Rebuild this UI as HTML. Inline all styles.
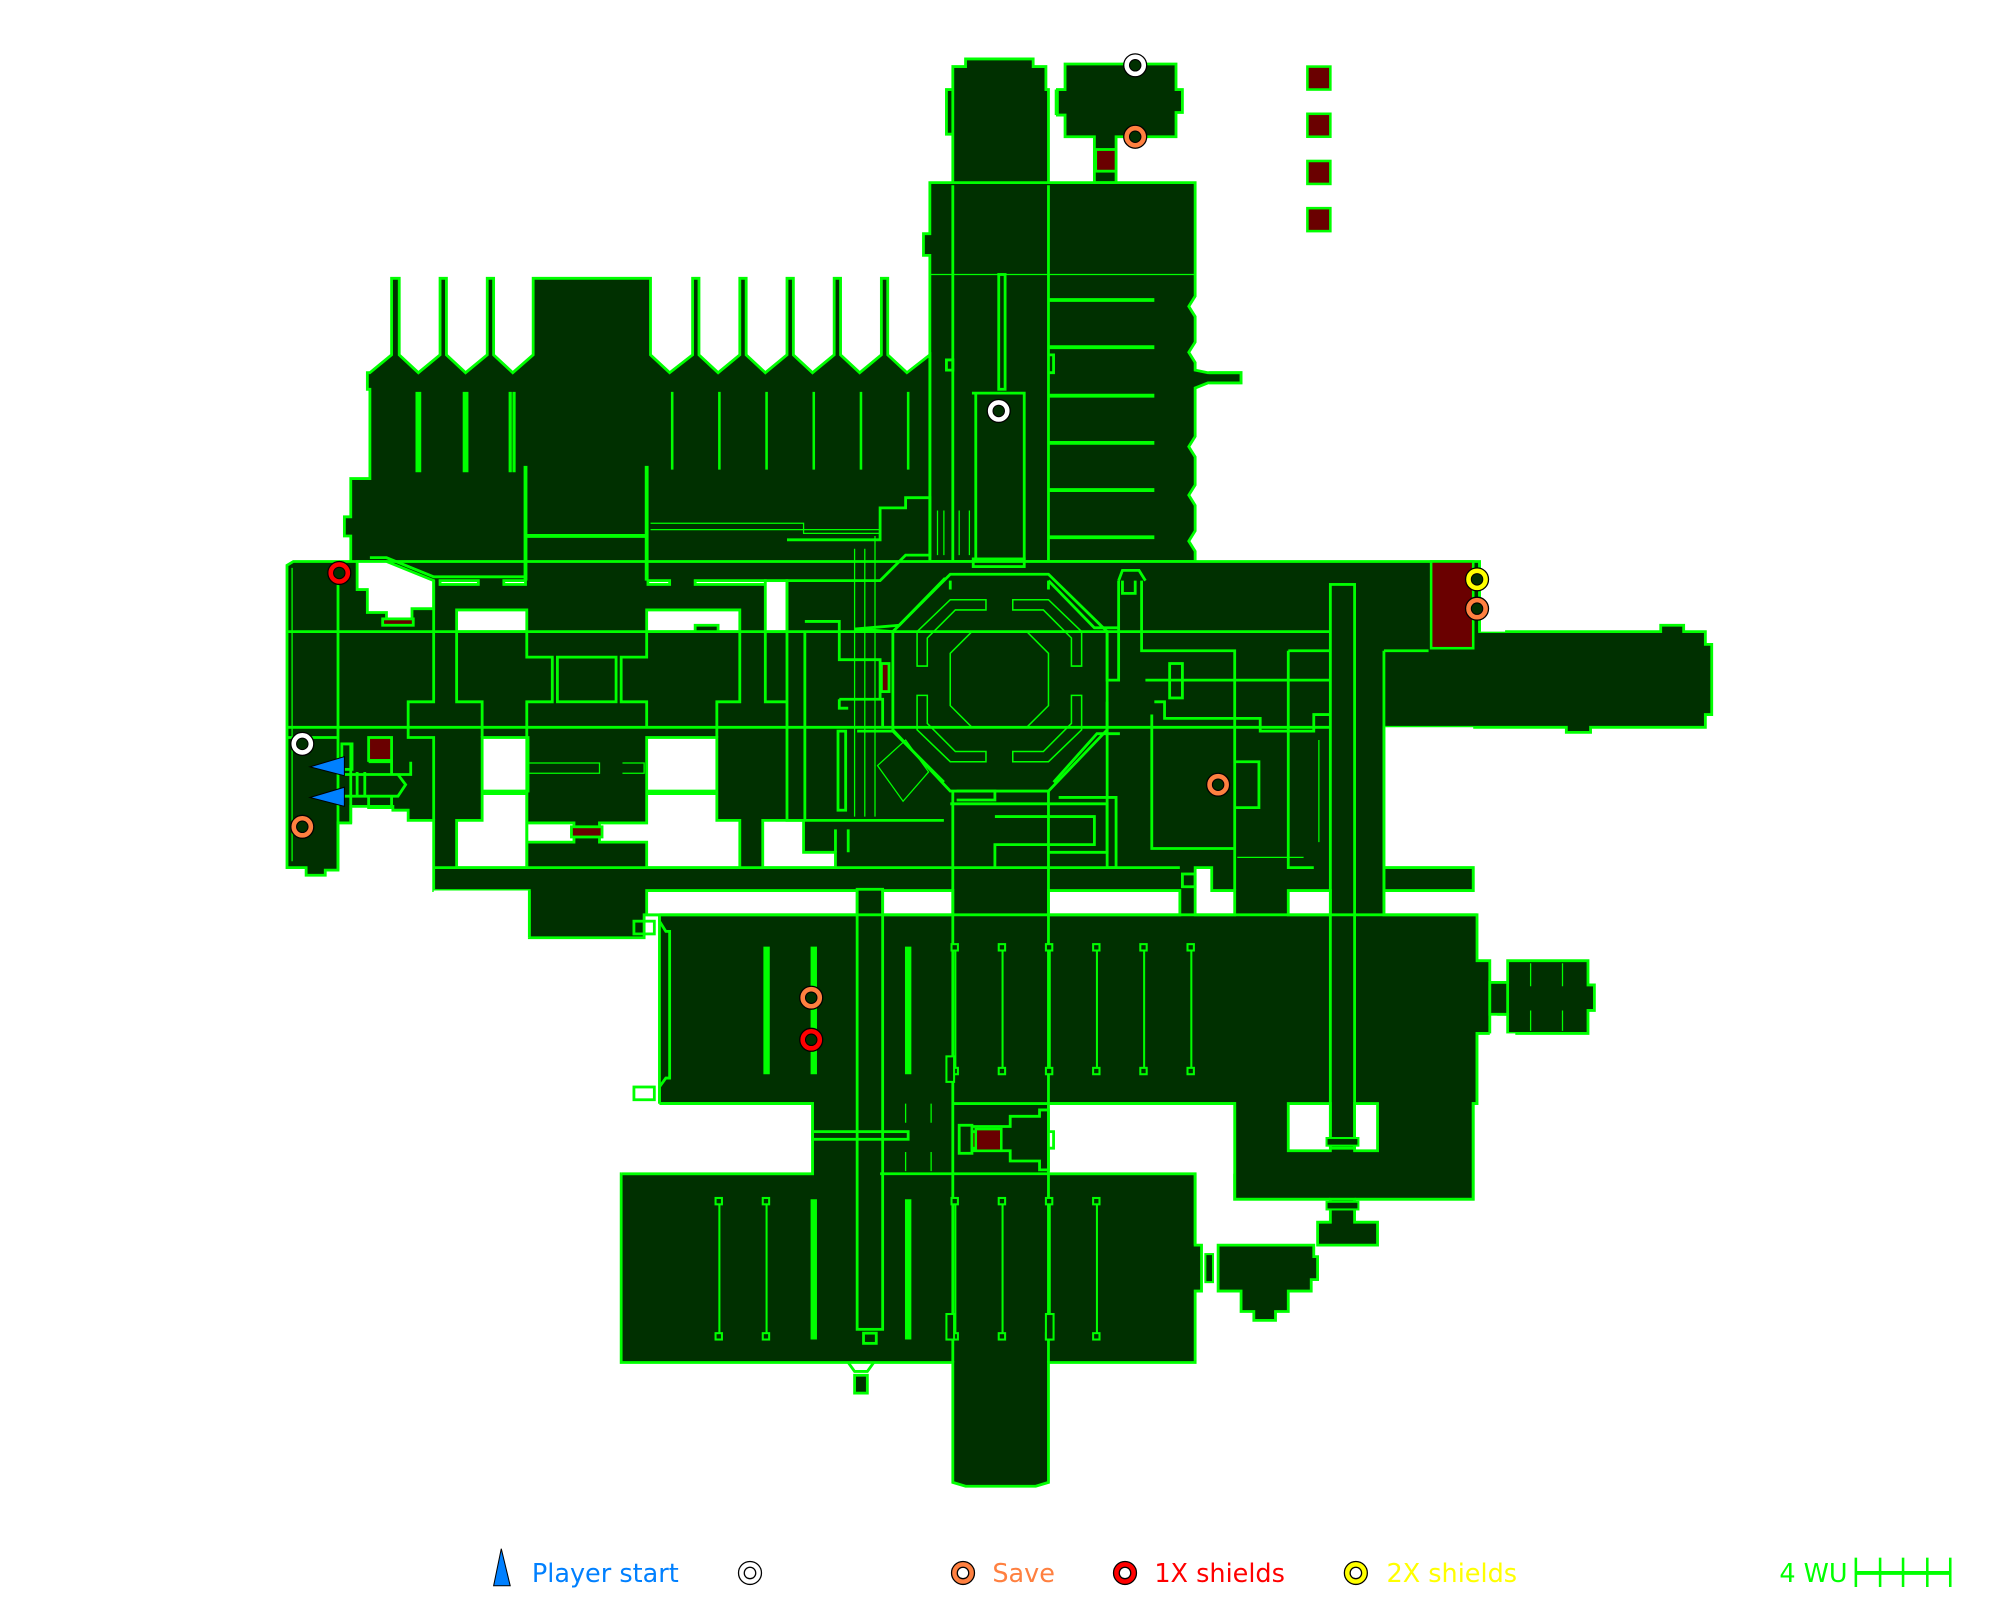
<!DOCTYPE html>
<html><head><meta charset="utf-8"><style>
html,body{margin:0;padding:0;background:#fff;width:2000px;height:1600px;overflow:hidden}
svg{display:block}
</style></head><body>
<svg width="2000" height="1600" viewBox="0 0 1568 1254" xmlns="http://www.w3.org/2000/svg">
<g fill="#003000" stroke="#00ff00" stroke-width="2.2" stroke-linejoin="miter">
<path d="M747,70 L747,52 L757,52 L757,46 L810,46 L810,52 L820,52 L820,70 L822,70 L822,145 L747,145 L747,70 L742,70 L742,105 L747,105Z"/>
<path d="M835,50 L922,50 L922,70 L927,70 L927,88 L922,88 L922,107 L875,107 L875,143 L858,143 L858,107 L835,107 L835,90 L829,90 L829,70 L835,70Z"/>
<rect x="859" y="117" width="16" height="17" fill="#6a0000"/>
<path d="M729,143 L937,143 L937,232 L932,240 L937,248 L937,268 L932,276 L937,284 L937,290 L947,292 L973,292 L973,300 L947,300 L937,304 L937,342 L932,350 L937,358 L937,380 L932,388 L937,396 L937,416 L932,424 L937,432 L937,440 L822,440 L822,440 L729,440 L729,200 L724,200 L724,183 L729,183Z"/>
<line x1="729" y1="215" x2="937" y2="215" stroke-width="1"/>
<line x1="822" y1="145" x2="822" y2="440"/>
<line x1="747" y1="145" x2="747" y2="440"/>
<path d="M290,292 L307,278 L307,218 L313,218 L313,278 L328,292 L345,278 L345,218 L350,218 L350,278 L365,292 L382,278 L382,218 L387,218 L387,278 L402,292 L418,278 L418,218 L510,218 L510,278 L525,292 L543,278 L543,218 L548,218 L548,278 L563,292 L580,278 L580,218 L585,218 L585,278 L600,292 L617,278 L617,218 L622,218 L622,278 L637,292 L654,278 L654,218 L659,218 L659,278 L674,292 L691,278 L691,218 L696,218 L696,278 L711,292 L729,278 L729,455 L290,455 L275,455 L275,420 L270,420 L270,405 L275,405 L275,375 L290,375 L290,305 L288,305 L288,292Z"/>
<path d="M225,443 L230,440 L1160,440 L1160,495 L1302,495 L1302,490 L1320,490 L1320,495 L1337,495 L1337,505 L1342,505 L1342,560 L1337,560 L1337,570 L1247,570 L1247,574 L1228,574 L1228,570 L1085,570 L1085,680 L1155,680 L1155,698 L1085,698 L1085,717 L1158,717 L1158,753 L1168,753 L1168,810 L1158,810 L1158,865 L1155,865 L1155,940 L968,940 L968,865 L822,865 L822,920 L937,920 L937,976 L942,976 L942,1012 L937,1012 L937,1068 L822,1068 L822,1162 L812,1165 L757,1165 L747,1162 L747,1068 L487,1068 L487,920 L637,920 L637,865 L517,865 L517,717 L505,717 L505,735 L415,735 L415,698 L340,698 L340,643 L320,643 L320,635 L308,635 L308,632 L275,632 L275,645 L265,645 L265,682 L255,682 L255,686 L240,686 L240,680 L225,680Z"/>
<path d="M1182,753 L1245,753 L1245,772 L1250,772 L1250,792 L1245,792 L1245,810 L1182,810 L1182,795 L1175,795 L1175,770 L1182,770Z"/>
<rect x="1168" y="770" width="14" height="25"/>
<path d="M955,976 L1030,976 L1030,985 L1033,985 L1033,1003 L1028,1003 L1028,1012 L1010,1012 L1010,1028 L1000,1028 L1000,1035 L983,1035 L983,1028 L973,1028 L973,1012 L955,1012Z"/>
<path d="M1043,940 L1062,940 L1062,958 L1080,958 L1080,976 L1033,976 L1033,958 L1043,958Z"/>
</g>
<g fill="#fff" stroke="#00ff00" stroke-width="2.2">
<path d="M280,440 L303,440 L340,455 L340,477 L323,477 L323,485 L303,485 L303,480 L288,480 L288,462 L280,462Z"/>
<rect x="345" y="455" width="30" height="3"/>
<rect x="395" y="455" width="17" height="3"/>
<rect x="508" y="455" width="17" height="3"/>
<rect x="545" y="455" width="55" height="3"/>
<rect x="600" y="455" width="17" height="40"/>
<path d="M358,478 L413,478 L413,495 L358,495Z"/>
<path d="M507,478 L580,478 L580,495 L563,495 L563,490 L545,490 L545,495 L507,495Z"/>
<rect x="378" y="578" width="36" height="42"/>
<rect x="507" y="578" width="55" height="42"/>
<path d="M358,643 L378,643 L378,622 L413,622 L413,660 L450,660 L450,645 L413,645 L413,680 L358,680Z"/>
<path d="M470,645 L507,645 L507,622 L562,622 L562,643 L580,643 L580,680 L507,680 L507,660 L470,660Z"/>
<path d="M598,643 L630,643 L630,668 L655,668 L655,680 L598,680Z"/>
<path d="M507,698 L672,698 L672,717 L507,717Z"/>
<path d="M692,698 L747,698 L747,717 L692,717Z"/>
<path d="M822,698 L925,698 L925,717 L822,717Z"/>
<path d="M937,680 L950,680 L950,698 L968,698 L968,717 L937,717Z"/>
<path d="M1010,698 L1043,698 L1043,717 L1010,717Z"/>
<path d="M1085,570 L1085,680 L1155,680 L1155,570Z" stroke="none"/>
<path d="M1010,865 L1043,865 L1043,902 L1010,902Z"/>
<path d="M1062,865 L1080,865 L1080,902 L1062,902Z"/>
<path d="M517,865 L637,865 L637,920 L487,920 L487,865Z" stroke="none"/>
<path d="M822,865 L968,865 L968,920 L822,920Z" stroke="none"/>
<rect x="1158" y="810" width="30" height="60" stroke="none"/>
<path d="M340,698 L415,698 L415,735 L340,735Z" stroke="none"/>
<rect x="1160" y="440" width="20" height="55" stroke="none"/>
<path d="M1085,680 L1085,698 L1155,698 L1155,680Z" fill="#003000"/>
</g>
<g fill="none" stroke="#00ff00" stroke-width="2.2">
<path d="M517,865 L637,865 L637,920 L487,920"/>
<path d="M822,865 L968,865 L968,940 L1043,940"/>
<path d="M1062,940 L1155,940 L1155,865 L1158,865 L1158,810 L1168,810"/>
<path d="M1085,570 L1085,680 L1155,680"/>
<path d="M415,698 L415,735"/>
<path d="M822,920 L937,920 L937,976"/>
<path d="M1160,440 L1160,495"/>
<rect x="1043" y="458" width="19" height="442"/>
<line x1="1085" y1="510" x2="1085" y2="717"/>
<line x1="1085" y1="510" x2="1120" y2="510"/>
<rect x="672" y="697" width="20" height="345"/>
<rect x="677" y="1045" width="10" height="8"/>
<rect x="670" y="1078" width="10" height="14" fill="#003000"/>
<line x1="747" y1="620" x2="747" y2="1068"/>
<line x1="822" y1="620" x2="822" y2="1068"/>
<line x1="225" y1="495" x2="1043" y2="495"/>
<line x1="225" y1="570" x2="1043" y2="570"/>
<line x1="340" y1="680" x2="925" y2="680"/>
<line x1="517" y1="717" x2="1158" y2="717"/>
<line x1="747" y1="865" x2="822" y2="865"/>
<line x1="690" y1="920" x2="822" y2="920"/>
<line x1="265" y1="440" x2="265" y2="682"/>
<line x1="412" y1="365" x2="412" y2="455" stroke-width="3"/>
<line x1="507" y1="365" x2="507" y2="455" stroke-width="3"/>
<line x1="412" y1="420" x2="507" y2="420" stroke-width="3"/>
<path d="M290,437 L303,437 L340,452 L412,452"/>
<path d="M340,455 L340,550 L320,550 L320,578 L340,578 L340,643"/>
<path d="M358,495 L358,550 L378,550 L378,578"/>
<path d="M413,495 L413,515 L433,515 L433,550 L413,550 L413,570"/>
<rect x="437" y="515" width="46" height="35"/>
<path d="M507,495 L507,515 L487,515 L487,550 L507,550 L507,570"/>
<path d="M580,495 L580,550 L562,550 L562,578"/>
<path d="M413,570 L413,680"/>
<path d="M617,423 L690,423 L690,398 L710,398 L710,390 L729,390 L729,435 L710,435 L690,455 L617,455 L617,643 L740,643"/>
<path d="M631,495 L631,643"/>
<path d="M600,495 L600,550 L617,550"/>
<path d="M895,455 L895,510 L968,510 L968,698"/>
<path d="M1010,510 L1043,510 M1010,510 L1010,680 L1030,680"/>
<path d="M903,560 L903,665 L968,665"/>
<path d="M868,550 L868,680 L875,680 L875,625 L830,625"/>
<path d="M877,455 L877,533 L868,533 L868,495"/>
<path d="M877,455 L880,447 L893,447 L898,455"/>
<path d="M880,455 L880,465 L890,465 L890,455"/>
<path d="M968,597 L987,597 L987,633 L968,633"/>
<rect x="917" y="520" width="10" height="27"/>
<path d="M898,533 L1043,533"/>
<path d="M905,550 L913,550 L913,563 L988,563 L988,573 L1030,573 L1030,560 L1043,560"/>
<rect x="927" y="685" width="10" height="10"/>
<rect x="497" y="722" width="16" height="10"/>
<rect x="497" y="852" width="16" height="10"/>
<path d="M517,717 L517,722 L522,730 L525,730 L525,845 L522,845 L517,852 L517,865"/>
<rect x="637" y="887" width="75" height="6"/>
<rect x="752" y="882" width="10" height="22"/>
<path d="M762,883 L792,883 L792,875 L815,875 L815,870 L822,870 L822,887 L826,887 L826,900 L822,900 L822,917 L815,917 L815,910 L792,910 L792,902 L762,902"/>
<rect x="762" y="887" width="22" height="13" fill="#6a0000"/>
<rect x="783" y="215" width="5" height="90"/>
<path d="M762,308 L803,308 L803,440 M765,308 L765,440"/>
<path d="M822,235 L905,235 M822,272 L905,272 M822,310 L905,310 M822,347 L905,347 M822,384 L905,384 M822,421 L905,421" stroke-width="3"/>
<rect x="763" y="438" width="40" height="6"/>
<path d="M742,282 L747,282 L747,290 L742,290 Z"/>
<path d="M822,278 L826,278 L826,292 L822,292"/>
<path d="M948,292 L973,292 L973,300 L948,300"/>
<path d="M828,70 L828,90"/>
<path d="M750,620 L780,620 L780,627 L750,627"/>
<path d="M745,630 L868,630 L868,668 L822,668"/>
<path d="M780,640 L858,640 L858,662 L780,662 L780,680"/>
<path d="M655,650 L655,668 M665,650 L665,668"/>
<rect x="657" y="573" width="6" height="62"/>
<path d="M658,548 L692,548 L692,570 M658,548 L658,555 L665,555"/>
<path d="M631,487 L658,487 L658,517 L690,517 L690,548"/>
<rect x="691" y="520" width="6" height="22" fill="#6a0000"/>
<rect x="448" y="648" width="24" height="8" fill="#6a0000"/>
<rect x="300" y="485" width="24" height="5" fill="#6a0000"/>
<rect x="289" y="578" width="18" height="18" fill="#6a0000"/>
<path d="M289,597 L307,597 L307,607 L322,607 L322,597 M280,605 L280,625 M286,605 L286,625 M270,607 L312,607 L318,615 L312,624 L270,624 M289,624 L289,633 L307,633 L307,624"/>
<path d="M225,578 L265,578 M270,583 L275,583 L275,645"/>
<line x1="229" y1="445" x2="229" y2="675" stroke-width="1"/>
<rect x="268" y="583" width="8" height="20"/>
<g stroke-width="2.5">
<path d="M327,307 L327,370 M329,307 L329,370"/>
<path d="M364,307 L364,370 M366,307 L366,370"/>
<path d="M400,307 L400,370 M403,307 L403,370"/>
</g>
<g stroke-width="2">
<path d="M527,307 L527,368 M564,307 L564,368 M601,307 L601,368 M638,307 L638,368 M675,307 L675,368 M712,307 L712,368"/>
</g>
<g stroke-width="1" fill="none">
<path d="M510,410 L630,410 L630,418 L690,418 M510,415 L690,415"/>
<path d="M670,430 L670,640 M678,430 L678,640 M686,420 L686,640 M740,400 L740,435 M735,400 L735,435 M752,400 L752,435 M760,400 L760,435"/>
<path d="M415,598 L470,598 L470,606 L415,606 M488,598 L505,598 L505,606 L488,606"/>
<path d="M688,600 L710,580 L728,605 L708,628Z"/>
<path d="M970,672 L1022,672 M1034,580 L1034,660"/>
<path d="M1200,755 L1200,773 M1225,755 L1225,773 M1200,792 L1200,808 M1225,792 L1225,808"/>
<path d="M692,865 L692,880 M710,865 L710,880 M730,865 L730,880 M692,903 L692,918 M710,903 L710,918 M730,903 L730,918"/>
</g>
<path d="M745,450 L822,450 L868,495 L868,572 L822,620 L745,620 L700,572 L700,495Z" stroke="#00ff00" stroke-width="2.2"/>
<path d="M745,455 L745,462 M822,455 L822,462 M741,453 L705,490 L670,493 L700,495 M822,455 L858,492 L878,492"/>
<path d="M740,613 L700,573 L672,573 M826,613 L860,575 L878,575"/>
<g stroke-width="1.2">
<path d="M745,470 L773,470 L773,478 L749,478 L727,500 L727,522 L719,522 L719,495Z"/>
<path d="M822,470 L794,470 L794,478 L818,478 L840,500 L840,522 L848,522 L848,495Z"/>
<path d="M745,597 L773,597 L773,589 L749,589 L727,567 L727,545 L719,545 L719,572Z"/>
<path d="M822,597 L794,597 L794,589 L818,589 L840,567 L840,545 L848,545 L848,572Z"/>
<path d="M762,495 L805,495 L822,512 L822,553 L805,570 L762,570 L745,553 L745,512Z"/>
</g>
<g stroke-width="3">
<path d="M600,742 L600,842 M602,742 L602,842 M637,742 L637,842 M639,742 L639,842 M711,742 L711,842 M713,742 L713,842"/>
<path d="M637,940 L637,1050 M639,940 L639,1050 M711,940 L711,1050 M713,940 L713,1050"/>
</g>
<g stroke-width="1.6">
<path d="M749,742 L749,840 M786,742 L786,840 M823,742 L823,840 M860,742 L860,840 M897,742 L897,840 M934,742 L934,840"/>
<path d="M564,942 L564,1048 M601,942 L601,1048 M749,942 L749,1048 M786,942 L786,1048 M823,942 L823,1048 M860,942 L860,1048"/>
</g>
<g fill="#003000" stroke-width="1.6">
<rect x="746" y="740" width="5" height="5"/><rect x="783" y="740" width="5" height="5"/><rect x="820" y="740" width="5" height="5"/><rect x="857" y="740" width="5" height="5"/><rect x="894" y="740" width="5" height="5"/><rect x="931" y="740" width="5" height="5"/>
<rect x="746" y="837" width="5" height="5"/><rect x="783" y="837" width="5" height="5"/><rect x="820" y="837" width="5" height="5"/><rect x="857" y="837" width="5" height="5"/><rect x="894" y="837" width="5" height="5"/><rect x="931" y="837" width="5" height="5"/>
<rect x="561" y="939" width="5" height="5"/><rect x="598" y="939" width="5" height="5"/><rect x="746" y="939" width="5" height="5"/><rect x="783" y="939" width="5" height="5"/><rect x="820" y="939" width="5" height="5"/><rect x="857" y="939" width="5" height="5"/>
<rect x="561" y="1045" width="5" height="5"/><rect x="598" y="1045" width="5" height="5"/><rect x="746" y="1045" width="5" height="5"/><rect x="783" y="1045" width="5" height="5"/><rect x="820" y="1045" width="5" height="5"/><rect x="857" y="1045" width="5" height="5"/>
<rect x="742" y="828" width="6" height="20"/><rect x="742" y="1030" width="6" height="20"/><rect x="820" y="1030" width="6" height="20"/>
<rect x="1040" y="892" width="25" height="6"/><rect x="1040" y="942" width="25" height="6"/>
<rect x="945" y="983" width="6" height="22"/>
</g>
<path d="M665,1068 L670,1075 L680,1075 L685,1068"/>
</g>
<g fill="#6a0000" stroke="#00ff00" stroke-width="2">
<rect x="1122" y="440" width="33" height="68"/>
<rect x="1025" y="52" width="18" height="18"/>
<rect x="1025" y="89" width="18" height="18"/>
<rect x="1025" y="126" width="18" height="18"/>
<rect x="1025" y="163" width="18" height="18"/>
<rect x="765" y="885" width="20" height="17"/>
</g>
<g stroke="#000" stroke-width="1">
<g fill="#fff"><circle cx="890" cy="51" r="9"/><circle cx="783" cy="322" r="9"/><circle cx="237" cy="583" r="9"/></g>
<g fill="#ff8040"><circle cx="890" cy="107" r="9"/><circle cx="1158" cy="477" r="9"/><circle cx="955" cy="615" r="9"/><circle cx="237" cy="648" r="9"/><circle cx="636" cy="782" r="9"/></g>
<g fill="#ff0000"><circle cx="266" cy="449" r="9"/><circle cx="636" cy="815" r="9"/></g>
<g fill="#ffff00"><circle cx="1158" cy="454" r="9"/></g>
</g>
<g fill="#003000" stroke="#000" stroke-width="0.8">
<circle cx="890" cy="51" r="4.5"/><circle cx="783" cy="322" r="4.5"/><circle cx="237" cy="583" r="4.5"/>
<circle cx="890" cy="107" r="4.5"/><circle cx="1158" cy="477" r="4.5"/><circle cx="955" cy="615" r="4.5"/><circle cx="237" cy="648" r="4.5"/><circle cx="636" cy="782" r="4.5"/>
<circle cx="266" cy="449" r="4.5"/><circle cx="636" cy="815" r="4.5"/><circle cx="1158" cy="454" r="4.5"/>
</g>
<g fill="#0080ff" stroke="#000" stroke-width="0.8">
<polygon points="243,601 270,593 270,608"/>
<polygon points="243,625 270,617 270,632"/>
</g>
<g font-family="DejaVu Sans, Liberation Sans, sans-serif" font-size="20">
<polygon points="393,1214 387,1243 400,1243" fill="#0080ff" stroke="#000" stroke-width="0.8"/>
<text x="417" y="1240" fill="#0080ff">Player start</text>
<g stroke="#000" stroke-width="1"><circle cx="588" cy="1233" r="9" fill="#fff"/><circle cx="588" cy="1233" r="4.5" fill="#fff"/>
<circle cx="755" cy="1233" r="9" fill="#ff8040"/><circle cx="755" cy="1233" r="4.5" fill="#fff"/>
<circle cx="882" cy="1233" r="9" fill="#ff0000"/><circle cx="882" cy="1233" r="4.5" fill="#fff"/>
<circle cx="1063" cy="1233" r="9" fill="#ffff00"/><circle cx="1063" cy="1233" r="4.5" fill="#fff"/></g>
<text x="778" y="1240" fill="#ff8040">Save</text>
<text x="905" y="1240" fill="#ff0000">1X shields</text>
<text x="1087" y="1240" fill="#ffff00">2X shields</text>
<text x="1395" y="1240" fill="#00ff00">4 WU</text>
<g stroke="#00ff00" stroke-width="2"><line x1="1455" y1="1233" x2="1529" y2="1233" stroke-width="3"/><line x1="1455" y1="1221" x2="1455" y2="1244"/><line x1="1474" y1="1221" x2="1474" y2="1244"/><line x1="1492" y1="1221" x2="1492" y2="1244"/><line x1="1511" y1="1221" x2="1511" y2="1244"/><line x1="1529" y1="1221" x2="1529" y2="1244"/></g>
</g>
</svg>
</body></html>
